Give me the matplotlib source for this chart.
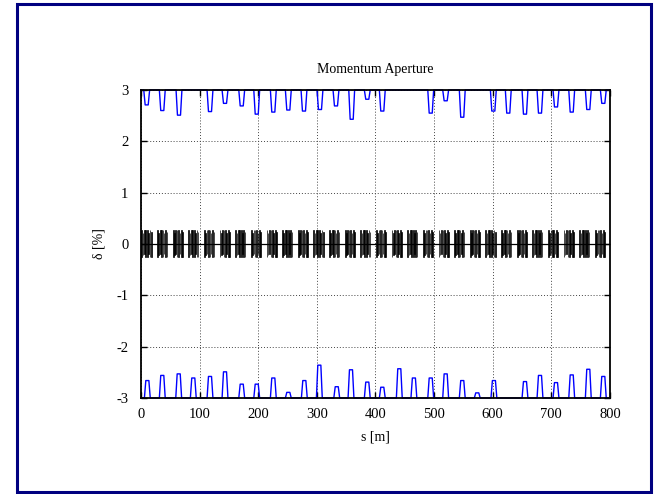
import matplotlib
matplotlib.use("Agg")
import matplotlib.pyplot as plt
from matplotlib.patches import Rectangle

plt.rcParams['font.family'] = ['Liberation Serif', 'DejaVu Serif']
plt.rcParams['axes.unicode_minus'] = False

# ---- data ----
title = "Momentum Aperture"
xlabel = "s [m]"
ylabel = "δ [%]"
x_ticks = [0, 100, 200, 300, 400, 500, 600, 700, 800]
y_ticks = [-3, -2, -1, 0, 1, 2, 3]

# positive aperture: centers of the dips and their minimum value
top_centers = [9.7, 36.3, 64.8, 117.7, 143.3, 171.8, 197.4, 225.7, 251.3, 278.0,
               305.3, 332.6, 359.4, 386.0, 411.6, 494.2, 519.7, 548.0, 601.0, 626.5,
               655.0, 680.6, 707.9, 734.7, 763.0, 788.6]
top_values = [2.71, 2.60, 2.51, 2.58, 2.74, 2.69, 2.53, 2.57, 2.61, 2.59,
              2.62, 2.69, 2.43, 2.82, 2.59, 2.55, 2.79, 2.47, 2.59, 2.55,
              2.53, 2.55, 2.67, 2.57, 2.62, 2.74]
top_limit = 3.0

# negative aperture: centers of the peaks and their maximum value
bot_centers = [10.8, 36.3, 64.3, 89.2, 117.7, 143.3, 171.8, 197.4, 225.7, 251.3,
               278.6, 304.2, 333.9, 358.2, 386.0, 411.6, 440.6, 465.5, 494.2, 519.7,
               548.0, 573.6, 602.0, 655.0, 680.6, 707.9, 734.7, 763.0, 788.6]
bot_values = [-2.66, -2.56, -2.53, -2.61, -2.58, -2.49, -2.73, -2.73, -2.61, -2.89,
              -2.66, -2.36, -2.78, -2.45, -2.69, -2.79, -2.43, -2.61, -2.61, -2.53,
              -2.66, -2.90, -2.66, -2.68, -2.56, -2.70, -2.55, -2.44, -2.58]
bot_limit = -3.0

# lattice sketch: one periodic cell
cell_length = 26.67
n_cells = 30
elem_offset = [0.8, 3.0, 5.3, 7.6, 10.2, 12.4, 14.7, 17.0]
elem_len = [1.4, 1.0, 1.4, 1.0, 1.4, 1.0, 1.4, 1.0]
elem_lo = [-0.25, -0.22, -0.20, -0.25, -0.25, -0.20, -0.25, -0.25]
elem_hi = [0.28, 0.22, 0.28, 0.28, 0.28, 0.22, 0.28, 0.24]

# dip shape half-widths (style)
half_top = 5.0
half_bot = 2.6

def dip_path(centers, values, base, x0=0, x1=800):
    xs, ys = [x0], [base]
    for c, v in zip(centers, values):
        xs += [c - half_top, c - half_bot, c + half_bot, c + half_top]
        ys += [base, v, v, base]
    xs.append(x1)
    ys.append(base)
    return xs, ys

fig = plt.figure(figsize=(6.54, 4.94), dpi=100)
ax = fig.add_axes([0.2156, 0.1943, 0.7171, 0.6235])

# frame around the whole figure
fig.patches.append(Rectangle((17 / 654, 2 / 494), 634 / 654, 488 / 494,
                             transform=fig.transFigure, fill=False,
                             edgecolor='#000080', linewidth=2.2))

# lattice
bx, bw, bb, bh = [], [], [], []
for k in range(n_cells):
    s0 = k * cell_length
    for o, L, lo, hi in zip(elem_offset, elem_len, elem_lo, elem_hi):
        bx.append(s0 + o)
        bw.append(L)
        bb.append(lo)
        bh.append(hi - lo)
ax.bar(bx, bh, width=bw, bottom=bb, align='edge', color='black',
       edgecolor='black', linewidth=0.5, zorder=3)
ax.axhline(0, color='black', linewidth=0.9, zorder=3)

# aperture lines
xs, ys = dip_path(top_centers, top_values, top_limit)
ax.plot(xs, ys, color='#0000ff', linewidth=1.0, zorder=4, clip_on=False)
xs, ys = dip_path(bot_centers, bot_values, bot_limit)
ax.plot(xs, ys, color='#0000ff', linewidth=1.0, zorder=4, clip_on=False)

ax.set_xlim(0, 800)
ax.set_ylim(-3, 3)
ax.set_xticks(x_ticks)
ax.set_yticks(y_ticks)
ax.set_xticklabels([str(t) for t in x_ticks])
ax.set_yticklabels([str(t) for t in y_ticks])
ax.tick_params(direction='in', top=True, right=True, length=4, width=1.0,
               labelsize=10.5, colors='black')
ax.tick_params(axis='x', pad=7)
ax.tick_params(axis='y', pad=9)
ax.grid(True, linestyle=(0, (1, 2)), color='#444444', linewidth=0.7)
ax.set_axisbelow(True)
for sp in ax.spines.values():
    sp.set_linewidth(1.3)
    sp.set_zorder(5)

ax.set_title(title, fontsize=10, pad=12)
ax.set_xlabel(xlabel, fontsize=10, labelpad=7)
ax.set_ylabel(ylabel, fontsize=10, labelpad=8)

fig.savefig("out.png", dpi=100)
